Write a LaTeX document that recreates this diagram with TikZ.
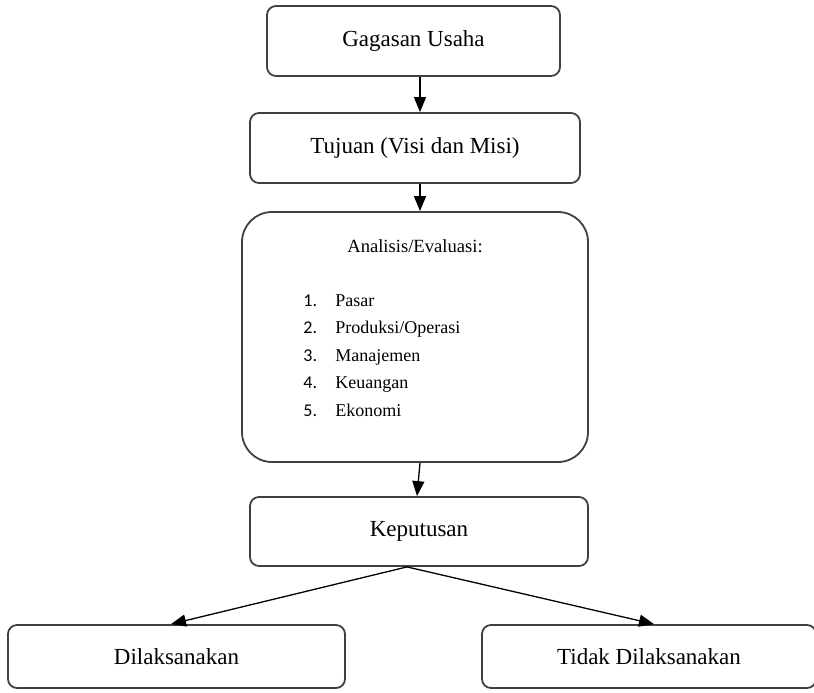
\documentclass[tikz,border=0pt]{standalone}
\usepackage{fontspec}
\setmainfont{Liberation Serif}
\newfontfamily\numfont{Carlito}
\usetikzlibrary{positioning, arrows.meta, calc}

\begin{document}
\begin{tikzpicture}[x=0.5pt, y=-0.5pt,
  box/.style={draw=black!75, line width=0.9pt, rounded corners=4.5pt, align=center, inner sep=0pt, font=\fontsize{11.5}{13}\selectfont},
  arr/.style={-{Triangle[length=7.5pt,width=6pt]}, line width=0.65pt},
  item/.style={anchor=base west, inner sep=0pt, font=\fontsize{9}{11}\selectfont}]
\useasboundingbox (0,0) rectangle (814,692);
\clip (0,0) rectangle (814,692);
% boxes
\node[box, minimum width=146.5pt, minimum height=35pt] (gagasan) at (413.5,41) {Gagasan Usaha};
\node[box, minimum width=165pt, minimum height=35pt] (tujuan) at (415,148) {Tujuan (Visi dan Misi)};
\node[box, rounded corners=15pt, minimum width=173pt, minimum height=125pt] (analisis) at (415,337) {};
\node[font=\fontsize{9.3}{11}\selectfont] (judul) at (415,246) {Analisis/Evaluasi:};
\foreach \t [count=\n] in {Pasar, Produksi/Operasi, Manajemen, Keuangan, Ekonomi} {
  \node[item] (no\n) at (303,{306+27.5*(\n-1)}) {\numfont\n.};
  \node[item] (isi\n) at (335,{306+27.5*(\n-1)}) {\t};
}
\node[box, minimum width=169pt, minimum height=34.5pt] (keputusan) at (419,531.5) {Keputusan};
\node[box, minimum width=168.5pt, minimum height=31.5pt] (dilaksanakan) at (176.5,656.5) {Dilaksanakan};
\node[box, minimum width=167pt, minimum height=31.5pt] (tidak) at (649,656.5) {Tidak Dilaksanakan};
% arrows
\draw[arr] ($(gagasan.south)+(6.5,0)$) -- ($(tujuan.north)+(5,0)$);
\draw[arr] ($(tujuan.south)+(5,0)$) -- ($(analisis.north)+(5,0)$);
\draw[arr] ($(analisis.south)+(5,0)$) -- ($(keputusan.north)+(-2,0)$);
\draw[arr] ($(keputusan.south)+(-12,0)$) -- ($(dilaksanakan.north)+(-5.5,0)$);
\draw[arr] ($(keputusan.south)+(-12,0)$) -- ($(tidak.north)+(5,0)$);
\end{tikzpicture}
\end{document}
